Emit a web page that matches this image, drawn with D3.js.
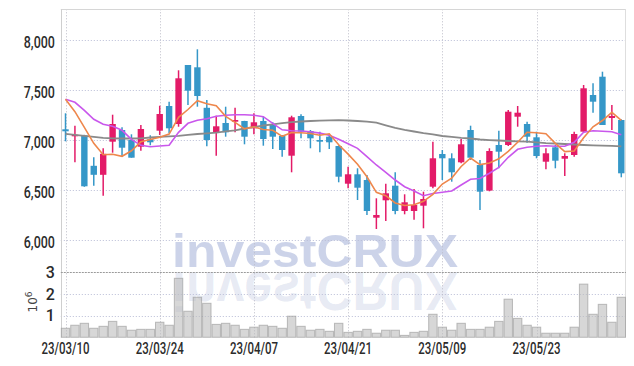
<!DOCTYPE html>
<html>
<head>
<meta charset="utf-8">
<script src="https://cdn.jsdelivr.net/npm/d3@7"></script>
<style>
  html, body { margin: 0; padding: 0; background: #fff; }
  svg { display: block; }
  .lbl { font-family: Roboto, 'DejaVu Sans', sans-serif; font-weight: 500; font-size: 16px; fill: #2b2b2b; }
</style>
</head>
<body>
<svg id="chart" width="634" height="366"></svg>
<script>
// ---------- data ----------
const dates = ["23/03/10","23/03/13","23/03/14","23/03/15","23/03/16","23/03/17","23/03/20","23/03/21","23/03/22","23/03/23",
  "23/03/24","23/03/27","23/03/28","23/03/29","23/03/30","23/03/31","23/04/03","23/04/04","23/04/05","23/04/06",
  "23/04/07","23/04/10","23/04/11","23/04/12","23/04/13","23/04/14","23/04/17","23/04/18","23/04/19","23/04/20",
  "23/04/21","23/04/24","23/04/25","23/04/26","23/04/27","23/04/28","23/05/02","23/05/03","23/05/04","23/05/08",
  "23/05/09","23/05/10","23/05/11","23/05/12","23/05/15","23/05/16","23/05/17","23/05/18","23/05/19","23/05/22",
  "23/05/23","23/05/24","23/05/25","23/05/26","23/05/30","23/05/31","23/06/01","23/06/02","23/06/05","23/06/07"];
const open  = [7110,7040,7050,6745,6655,6986,7103,7003,6936,7010,7096,7343,7163,7753,7730,7325,7083,7173,7186,7193,
  7120,7193,7153,7043,6846,7243,7093,7003,7036,6943,6566,6660,6603,6226,6400,6546,6293,6293,6346,6536,
  6863,6820,6780,7103,6753,6497,6953,6953,7236,7163,7030,6786,6930,6816,6853,7086,7453,7636,7223,7203];
const high  = [7270,7145,7055,6830,6920,7256,7130,7060,7153,7050,7346,7386,7700,7753,7910,7403,7246,7336,7326,7195,
  7270,7236,7180,7053,7246,7260,7103,7086,7060,6950,6736,6720,6653,6420,6566,6680,6460,6513,6486,6986,
  6903,6870,7013,7146,6803,6920,7096,7303,7343,7186,7086,6920,6953,6870,7086,7553,7570,7686,7353,7210];
const low   = [6990,6780,6535,6545,6445,6876,6836,6826,6896,6950,7053,7070,7136,7353,7336,6940,6846,7036,7080,6960,
  7060,6946,6913,6836,6680,7020,6920,6880,6913,6580,6520,6403,6253,6113,6193,6260,6260,6206,6120,6520,
  6603,6586,6770,6803,6303,6490,6720,6943,7136,6976,6820,6710,6720,6643,6836,7076,7276,7153,7103,6630];
const close = [7090,7055,6540,6655,6865,7163,6926,6826,7113,6980,7263,7120,7620,7496,7443,7003,7140,7080,7203,7036,
  7180,7013,7036,6903,7230,7086,7020,6986,6980,6636,6660,6526,6293,6253,6470,6293,6380,6353,6413,6820,
  6820,6680,6960,6826,6486,6893,6886,7286,7276,7036,6843,6870,6796,6843,7063,7520,7386,7153,7243,6670];
// volume in millions of shares
const volume = [0.42,0.56,0.65,0.42,0.51,0.74,0.51,0.33,0.37,0.37,0.70,0.56,2.74,1.21,1.86,1.58,0.60,0.65,0.56,0.37,
  0.47,0.56,0.51,0.42,0.98,0.51,0.33,0.37,0.28,0.65,0.23,0.28,0.37,0.19,0.33,0.33,0.09,0.23,0.28,1.07,
  0.47,0.33,0.65,0.37,0.37,0.47,0.74,1.77,0.88,0.56,0.47,0.19,0.19,0.19,0.47,2.47,1.07,1.53,0.70,1.86];
const ma5  = [7410,7286,7130,6970,6855,6860,6840,6895,6985,7008,7030,7062,7230,7308,7396,7365,7345,7240,7180,7115,
  7135,7108,7100,7040,7078,7075,7068,7050,7065,6955,6862,6760,6635,6480,6446,6373,6348,6355,6390,6460,
  6563,6622,6738,6823,6757,6773,6815,6890,6980,7080,7075,7066,6970,6887,6893,7025,7135,7198,7280,7200];
const ma20 = [7410,7380,7300,7210,7160,7140,7100,7010,6950,6935,6943,6950,7080,7170,7200,7215,7240,7250,7255,7255,
  7250,7236,7170,7105,7096,7093,7086,7072,7050,7010,6965,6920,6836,6753,6680,6603,6536,6493,6446,6468,
  6480,6493,6553,6610,6618,6670,6728,6830,6910,6930,6940,6945,6940,6940,6980,7080,7096,7090,7086,7055];
const ma60 = [7065,7055,7045,7035,7025,7020,7018,7018,7020,7028,7035,7040,7045,7055,7063,7070,7076,7090,7100,7118,
  7132,7148,7160,7172,7182,7188,7193,7196,7200,7202,7198,7193,7186,7176,7150,7125,7105,7088,7072,7060,
  7043,7035,7025,7018,7008,7002,6998,6993,6990,6986,6980,6972,6968,6963,6958,6953,6950,6946,6944,6940];
const priceTicks = [6000,6500,7000,7500,8000];
const volTicks = [1,2,3];
const dateTickIdx = [0,10,20,30,40,50];
const watermark = "investCRUX";

// ---------- layout ----------
const svg = d3.select("#chart");
const L = 60.8, R = 626, T = 9.3, MID = 272.7, B = 337.3;
const UP = "#e31b68", DOWN = "#3597c8";

const x = d3.scaleBand().domain(d3.range(dates.length)).range([L, R]).paddingInner(0).paddingOuter(0);
const cx = i => x(i) + x.bandwidth() / 2;
const yP = d3.scaleLinear().domain([5676, 8310]).range([MID, T]);
const yV = d3.scaleLinear().domain([0, 3]).range([B, MID]);

// watermark (behind)
const wm = svg.append("g");
wm.append("text").attr("x", 172).attr("y", 267)
  .attr("textLength", 286).attr("lengthAdjust", "spacingAndGlyphs")
  .style("font-family", "'Liberation Sans', Arial, sans-serif").style("font-weight", "bold")
  .style("font-size", "47px").style("fill", "rgb(105,125,190)").style("fill-opacity", 0.34)
  .text(watermark);
wm.append("text").attr("transform", "translate(0,271.7) scale(1,-1.2)")
  .attr("x", 172).attr("y", 0)
  .attr("textLength", 286).attr("lengthAdjust", "spacingAndGlyphs")
  .style("font-family", "'Liberation Sans', Arial, sans-serif").style("font-weight", "bold")
  .style("font-size", "47px").style("fill", "rgb(110,130,190)").style("fill-opacity", 0.17)
  .text(watermark);

// grid
const grid = svg.append("g").attr("stroke-dasharray", "1,2").attr("stroke-width", 1);
grid.selectAll("line.h").data(priceTicks).join("line").attr("class", "h").attr("stroke", "#b9bdd6")
  .attr("x1", L).attr("x2", R).attr("y1", d => Math.round(yP(d)) + 0.5).attr("y2", d => Math.round(yP(d)) + 0.5);
grid.selectAll("line.hv").data(volTicks.filter(d => d < 3)).join("line").attr("class", "hv").attr("stroke", "#b9bdd6")
  .attr("x1", L).attr("x2", R).attr("y1", d => Math.round(yV(d)) + 0.5).attr("y2", d => Math.round(yV(d)) + 0.5);
grid.selectAll("line.v").data(dateTickIdx).join("line").attr("class", "v").attr("stroke", "#bdbdc8")
  .attr("x1", d => Math.round(cx(d)) + 0.5).attr("x2", d => Math.round(cx(d)) + 0.5)
  .attr("y1", T).attr("y2", B);

// frame
const frame = svg.append("g").attr("fill", "none");
frame.append("line").attr("x1", L).attr("x2", R).attr("y1", 9.5).attr("y2", 9.5).attr("stroke", "#d6d6d6");
frame.append("line").attr("x1", 61.5).attr("x2", 61.5).attr("y1", T).attr("y2", B).attr("stroke", "#cfcfcf");
frame.append("line").attr("x1", 625.5).attr("x2", 625.5).attr("y1", T).attr("y2", B).attr("stroke", "#dedede");
frame.append("line").attr("x1", L).attr("x2", R).attr("y1", 272.5).attr("y2", 272.5)
  .attr("stroke", "#9a9a9a").attr("stroke-dasharray", "2,1");

// volume bars
svg.append("g").selectAll("rect").data(volume).join("rect")
  .attr("x", (d, i) => x(i) + 0.5).attr("width", x.bandwidth() - 1)
  .attr("y", d => yV(d)).attr("height", d => B - yV(d))
  .attr("fill", "rgb(188,188,188)").attr("fill-opacity", 0.6)
  .attr("stroke", "rgb(150,150,150)").attr("stroke-opacity", 0.6).attr("stroke-width", 1);

// candles
const cg = svg.append("g");
const idx = d3.range(dates.length);
cg.selectAll("line.wick").data(idx).join("line").attr("class", "wick")
  .attr("x1", i => cx(i)).attr("x2", i => cx(i))
  .attr("y1", i => yP(high[i])).attr("y2", i => yP(low[i]))
  .attr("stroke", i => close[i] >= open[i] ? UP : DOWN).attr("stroke-width", 1.5);
cg.selectAll("rect.body").data(idx).join("rect").attr("class", "body")
  .attr("x", i => cx(i) - 3.2).attr("width", 6.4)
  .attr("y", i => yP(Math.max(open[i], close[i])))
  .attr("height", i => Math.max(1.5, Math.abs(yP(open[i]) - yP(close[i]))))
  .attr("fill", i => close[i] >= open[i] ? UP : DOWN);

// moving averages
const line = arr => d3.line().x((d, i) => cx(i)).y(d => yP(d))(arr);
svg.append("path").attr("d", line(ma60)).attr("fill", "none").attr("stroke", "#8a8a8a").attr("stroke-width", 1.8);
svg.append("path").attr("d", line(ma20)).attr("fill", "none").attr("stroke", "#c957ec").attr("stroke-width", 1.6);
svg.append("path").attr("d", line(ma5)).attr("fill", "none").attr("stroke", "#ee874c").attr("stroke-width", 1.6);

// axes
const axP = svg.append("g").attr("transform", `translate(${L},0)`)
  .call(d3.axisLeft(yP).tickValues(priceTicks).tickFormat(d3.format(",")).tickSize(0).tickPadding(6));
const axV = svg.append("g").attr("transform", `translate(${L},0)`)
  .call(d3.axisLeft(yV).tickValues(volTicks).tickFormat(d => d).tickSize(0).tickPadding(6));
const axX = svg.append("g").attr("transform", `translate(0,${B})`)
  .call(d3.axisBottom(x).tickValues(dateTickIdx).tickFormat(i => dates[i]).tickSize(0).tickPadding(5));
[axP, axV, axX].forEach(a => {
  a.select(".domain").remove();
  a.selectAll("text").attr("class", "lbl").attr("fill", null);
});
axP.selectAll("text").attr("dy", "0.42em").attr("textLength", 31).attr("lengthAdjust", "spacingAndGlyphs");
axV.selectAll("text").attr("dy", "0.32em");
axX.selectAll("text").attr("textLength", 48).attr("lengthAdjust", "spacingAndGlyphs");

// 10^6 unit label
const unit = svg.append("text").attr("transform", "translate(37,302) rotate(-90)")
  .attr("text-anchor", "middle")
  .style("font-family", "'DejaVu Sans', sans-serif").style("font-size", "12px").style("fill", "#444");
unit.append("tspan").text("10");
unit.append("tspan").attr("dy", -5).style("font-size", "9px").text("6");
</script>
</body>
</html>
